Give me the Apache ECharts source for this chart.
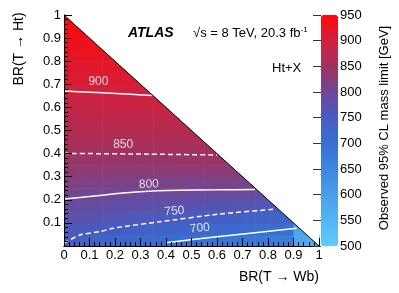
<!DOCTYPE html>
<html><head><meta charset="utf-8">
<script src="https://cdn.jsdelivr.net/npm/echarts@6/dist/echarts.min.js"></script>
<style>html,body{margin:0;padding:0;background:#fff}#c{width:399px;height:293px}</style>
</head><body><div id="c"></div>
<script>
// Bin centres (BR(T->Wb) columns, BR(T->Ht) rows), bin width 0.05
const binCenters = [0.025,0.075,0.125,0.175,0.225,0.275,0.325,0.375,0.425,0.475,0.525,0.575,0.625,0.675,0.725,0.775,0.825,0.875,0.925,0.975];
const CELL = 0.05;
// Observed 95% CL mass limit [GeV]; row j = BR(T->Ht) bin, entry i = BR(T->Wb) bin
const limitRows = [
  [749,741,736,730,724,719,714,708,704,701,698,694,691,688,684,681,677,673,580,570],
  [761,758,754,750,745,741,737,733,729,727,724,720,717,714,711,708,705,701,585],
  [776,773,770,766,763,761,758,756,754,751,749,745,742,740,737,734,731,728],
  [791,788,786,783,781,779,777,776,774,772,771,769,767,765,763,761,759],
  [805,803,802,800,799,797,796,795,794,794,793,792,791,790,790,789],
  [818,817,816,815,814,813,812,812,812,811,811,811,811,810,810],
  [831,830,829,829,828,828,828,828,827,827,827,827,827,827],
  [844,844,843,843,843,843,843,843,843,844,844,844,844],
  [855,855,855,855,855,855,856,856,856,856,856,856],
  [864,864,865,865,865,865,866,866,866,866,866],
  [874,874,874,875,875,875,875,876,876,876],
  [883,883,884,884,885,885,885,886,886],
  [893,893,893,894,894,895,895,895],
  [902,902,902,903,903,903,903],
  [909,909,910,910,910,910],
  [916,916,917,917,917],
  [924,924,924,925],
  [931,931,932],
  [939,939],
  [947]
];
// Contours
const contour900 = [[0,0.671],[0.15,0.663],[0.344,0.652]];
const contour850 = [[0,0.401],[0.3,0.398],[0.6,0.394]];
const contour800 = [[0,0.203],[0.1,0.214],[0.2,0.226],[0.3,0.235],[0.45,0.241],[0.6,0.243],[0.749,0.245]];
const contour750 = [[0,0.012],[0.063,0.048],[0.141,0.062],[0.193,0.077],[0.376,0.105],[0.6,0.137],[0.82,0.159]];
const contour700 = [[0.4,0.014],[0.6,0.04],[0.912,0.077]];
const contourLabels = [[0.135,0.711,'900',0],[0.232,0.437,'850',0],[0.333,0.267,'800',2],[0.433,0.151,'750',5],[0.533,0.077,'700',6]];
const diagonal = [[0,1],[1,0]];
const upperTriangle = [[0,1],[1,1],[1,0]];
const colorMin = 500, colorMax = 950;
const paletteColors = ['#5fcbff','#54b5f5','#4a9eea','#3f86de','#3670d2','#475cc2','#6e4896','#a0325e','#d0203e','#ff0808'];

const cells = [];
limitRows.forEach((row, j) => row.forEach((v, i) => cells.push([binCenters[i], binCenters[j], v])));

const FONT = 'Liberation Sans, Arial, sans-serif';
const chart = echarts.init(document.getElementById('c'), null, {renderer: 'canvas'});

function contourSeries(data, dashed) {
  return {type:'line', data, symbol:'none', silent:true, z:5, smooth:0.2,
    lineStyle:{color:'#fff', width:1.5, type: dashed ? [5,3] : 'solid'}};
}
const mainAxisCommon = {
  type:'value', min:0, max:1, interval:0.1, z:10, gridIndex:0,
  axisLine:{show:true, lineStyle:{color:'#000', width:1}},
  axisTick:{show:true, inside:true, length:8, lineStyle:{color:'#000', width:1}},
  minorTick:{show:true, splitNumber:5, length:4, lineStyle:{color:'#000', width:1}},
  splitLine:{show:false}, minorSplitLine:{show:false},
  axisLabel:{color:'#000', fontSize:13, fontFamily:FONT, margin:3}
};
const frameAxis = {type:'value', min:0, max:1, z:10, gridIndex:0,
  axisLine:{show:true, lineStyle:{color:'#000', width:1}}, axisTick:{show:false}, axisLabel:{show:false}, splitLine:{show:false}};

chart.setOption({
  animation:false,
  backgroundColor:'#fff',
  grid:[
    {left:64, top:15, width:255, height:231, containLabel:false, outerBoundsMode:'none'},
    {left:321, top:15, width:17, height:231, containLabel:false, outerBoundsMode:'none'}
  ],
  xAxis:[
    Object.assign({}, mainAxisCommon, {position:'bottom'}),
    {type:'value', gridIndex:1, min:0, max:1, show:false},
    Object.assign({}, frameAxis, {position:'top'})
  ],
  yAxis:[
    Object.assign({}, mainAxisCommon, {position:'left', axisLabel:Object.assign({}, mainAxisCommon.axisLabel, {showMinLabel:false})}),
    {type:'value', gridIndex:1, min:colorMin, max:colorMax, interval:50, position:'right', z:10,
      axisLine:{show:false}, splitLine:{show:false},
      axisTick:{show:true, inside:true, length:8, lineStyle:{color:'#333', width:1}},
      axisLabel:{color:'#000', fontSize:13, fontFamily:FONT, margin:2}},
    Object.assign({}, frameAxis, {position:'right'})
  ],
  visualMap:{
    type:'continuous', min:colorMin, max:colorMax, dimension:2, seriesIndex:0,
    left:321, top:15, itemWidth:17, itemHeight:231, padding:0, text:null, showLabel:false,
    calculable:false, hoverLink:false, orient:'vertical',
    inRange:{color:paletteColors}
  },
  series:[
    {type:'custom', xAxisIndex:0, yAxisIndex:0, data:cells, z:1, silent:true,
      encode:{x:0, y:1},
      renderItem:function(params, api){
        const x = api.value(0), y = api.value(1);
        const p1 = api.coord([x - CELL/2, y + CELL/2]);
        const p2 = api.coord([x + CELL/2, y - CELL/2]);
        return {type:'rect', shape:{x:p1[0], y:p1[1], width:p2[0]-p1[0]+0.6, height:p2[1]-p1[1]+0.6},
          style:{fill:api.visual('color')}};
      }},
    {type:'custom', xAxisIndex:0, yAxisIndex:0, data:[0], z:3, silent:true,
      renderItem:function(params, api){
        return {type:'polygon', shape:{points:upperTriangle.map(p => api.coord(p))}, style:{fill:'#fff'}};
      }},
    contourSeries(contour900, false),
    contourSeries(contour850, true),
    contourSeries(contour800, false),
    contourSeries(contour750, true),
    contourSeries(contour700, false),
    {type:'line', data:diagonal, symbol:'none', silent:true, z:6, lineStyle:{color:'#000', width:1}},
    {type:'scatter', data:contourLabels.map(d => ({value:[d[0], d[1]], name:d[2], label:{rotate:d[3]}})), symbolSize:0, z:7, silent:true,
      label:{show:true, position:'inside', color:'#fff', fontSize:12, fontFamily:FONT,
        formatter:p => p.name}},
  ],
  graphic:[
    {type:'text', x:128, y:33, z:20, style:{text:'ATLAS', font:'italic bold 14px ' + FONT, fill:'#000', textVerticalAlign:'middle'}},
    {type:'text', x:193, y:33, z:20, style:{text:'√s = 8 TeV, 20.3 fb{sup|-1}', font:'13px ' + FONT, fill:'#000', textVerticalAlign:'middle',
      rich:{sup:{fontSize:8, fontFamily:FONT, verticalAlign:'top', padding:[0,0,6,0]}}}},
    {type:'text', x:272, y:68, z:20, style:{text:'Ht+X', font:'13px ' + FONT, fill:'#000', textVerticalAlign:'middle'}},
    {type:'text', x:19, y:49, rotation:Math.PI/2, z:20, style:{text:'BR(T → Ht)', font:'14px ' + FONT, fill:'#000', textAlign:'center', textVerticalAlign:'middle'}},
    {type:'text', x:319, y:277, z:20, style:{text:'BR(T → Wb)', font:'14px ' + FONT, fill:'#000', textAlign:'right', textVerticalAlign:'middle'}},
    {type:'text', x:384, y:128, rotation:Math.PI/2, z:20, style:{text:'Observed 95% CL mass limit [GeV]', font:'13px ' + FONT, fill:'#000', textAlign:'center', textVerticalAlign:'middle'}}
  ]
});
</script></body></html>
